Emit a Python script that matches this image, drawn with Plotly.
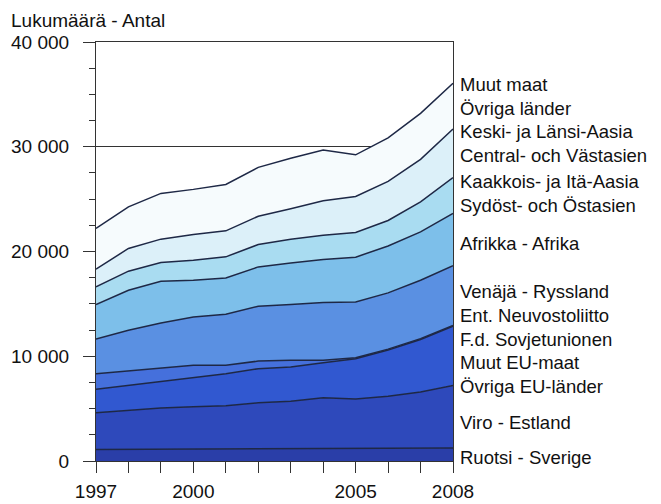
import plotly.graph_objects as go

# ---------------- data ----------------
years = [1997, 1998, 1999, 2000, 2001, 2002, 2003, 2004, 2005, 2006, 2007, 2008]
year_labels = ["1997", "", "", "2000", "", "", "", "", "2005", "", "", "2008"]

ruotsi = [1100, 1110, 1130, 1150, 1170, 1190, 1210, 1230, 1240, 1250, 1250, 1250]
viro = [3510, 3720, 3920, 4030, 4110, 4370, 4490, 4820, 4680, 4930, 5330, 5970]
muut_eu = [2230, 2390, 2580, 2830, 3050, 3250, 3270, 3340, 3850, 4420, 5020, 5640]
ent_nl = [1490, 1370, 1180, 1120, 800, 730, 640, 220, 80, 80, 80, 80]
venaja = [3320, 3890, 4360, 4620, 4880, 5230, 5340, 5510, 5330, 5370, 5580, 5710]
afrikka = [3280, 3820, 3990, 3510, 3470, 3760, 3950, 4120, 4280, 4470, 4610, 4980]
kaakkois = [1690, 1820, 1790, 1910, 2010, 2140, 2280, 2320, 2350, 2440, 2870, 3420]
keski = [1690, 2170, 2230, 2450, 2480, 2700, 2900, 3280, 3440, 3740, 4060, 4650]
muut_maat = [3890, 3970, 4365, 4310, 4430, 4660, 4820, 4840, 3980, 4150, 4390, 4360]

y_tickvals = [0, 10000, 20000, 30000, 40000]
y_ticktext = ["0", "10 000", "20 000", "30 000", "40 000"]

series_names = ["Ruotsi - Sverige", "Viro - Estland", "Muut EU-maat", "Ent. Neuvostoliitto",
                "Venäjä - Ryssland", "Afrikka - Afrika", "Kaakkois- ja Itä-Aasia",
                "Keski- ja Länsi-Aasia", "Muut maat"]
series_values = [ruotsi, viro, muut_eu, ent_nl, venaja, afrikka, kaakkois, keski, muut_maat]

title_text = "Lukumäärä - Antal"
# right-hand labels, top to bottom
label_texts = ["Muut maat<br>Övriga länder",
               "Keski- ja Länsi-Aasia<br>Central- och Västasien",
               "Kaakkois- ja Itä-Aasia<br>Sydöst- och Östasien",
               "Afrikka - Afrika",
               "Venäjä - Ryssland",
               "Ent. Neuvostoliitto<br>F.d. Sovjetunionen",
               "Muut EU-maat<br>Övriga EU-länder",
               "Viro - Estland",
               "Ruotsi - Sverige"]

# ---------------- styles / layout ----------------
colors = ["#2a3ea8", "#2e49bb", "#3158d0", "#4570dc", "#5a90e2",
          "#7dbfea", "#a9dcf1", "#dcf0f9", "#f6fbfd"]
line_color = "#1e2846"
FONT = "Liberation Sans, Arial, sans-serif"
BODY = 8                      # page body margin of the html page
W, H = 661 - BODY, 504 - BODY
PLOT_L, PLOT_R, PLOT_T, PLOT_B = 96, 453, 42, 461   # target plot box in window pixels
ML, MT = PLOT_L - BODY, PLOT_T - BODY
MR = W - (PLOT_R - BODY)
MB = H - (PLOT_B - BODY)
PW, PH = PLOT_R - PLOT_L, PLOT_B - PLOT_T

label_px_y = [97, 144, 193, 243, 291, 327, 374, 422, 457]


def px_x(px):
    return (px - PLOT_L) / PW


def px_y(py):
    return (PLOT_B - py) / PH


fig = go.Figure()
for name, vals, col in zip(series_names, series_values, colors):
    fig.add_trace(go.Scatter(
        x=years, y=vals, name=name, mode="lines", stackgroup="one",
        line=dict(color=line_color, width=1.5), fillcolor=col,
        hoverinfo="skip", showlegend=False))

annotations = [dict(text=title_text, xref="paper", yref="paper",
                    x=px_x(9), y=px_y(20),
                    xanchor="left", yanchor="middle", showarrow=False,
                    font=dict(size=19, color="#111", family=FONT))]
for txt, py in zip(label_texts, label_px_y):
    annotations.append(dict(text=txt, xref="paper", yref="paper",
                            x=px_x(458), y=px_y(py), align="left",
                            xanchor="left", yanchor="middle", showarrow=False,
                            font=dict(size=18.5, color="#111", family=FONT)))

axis_common = dict(ticks="outside", tickcolor="#333", tickwidth=1.2,
                   showline=True, linecolor="#333", linewidth=1.2, mirror=True,
                   zeroline=False, automargin=False,
                   tickfont=dict(size=19, family=FONT, color="#111"))

fig.update_layout(
    width=W, height=H, margin=dict(l=ML, r=MR, t=MT, b=MB, pad=0),
    paper_bgcolor="white", plot_bgcolor="white",
    font=dict(family=FONT, size=19, color="#111"),
    annotations=annotations,
    xaxis=dict(range=[1997, 2008], tickvals=years, ticktext=year_labels,
               ticklen=11, showgrid=False, ticklabelstandoff=2, **axis_common),
    yaxis=dict(range=[0, 40000], tickvals=y_tickvals, ticktext=y_ticktext,
               ticklen=12, showgrid=True, gridcolor="#333", gridwidth=1.2,
               ticklabelstandoff=10,
               minor=dict(dtick=2500, ticks="outside", ticklen=6,
                          tickcolor="#333", tickwidth=1.2, showgrid=False),
               **axis_common),
)

fig.write_html("out.html")
